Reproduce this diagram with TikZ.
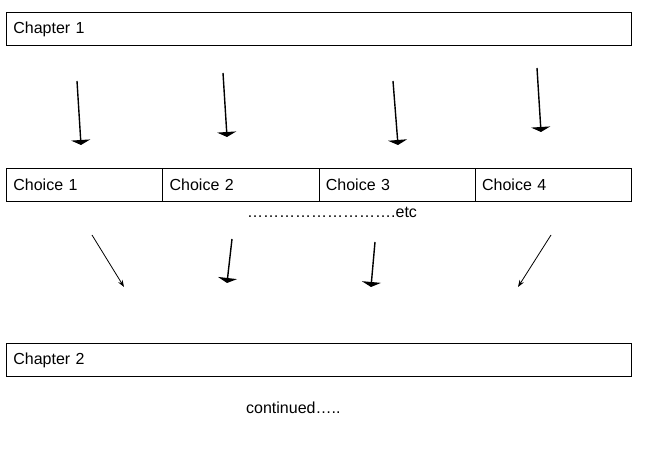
\documentclass[tikz,border=0pt]{standalone}
\usepackage{fontspec}
\setmainfont{Liberation Sans}
\usetikzlibrary{arrows.meta,positioning}
\newcommand{\BoxFont}{\fontsize{16}{19}\selectfont}
\tikzset{
  bar/.style={draw, line width=0.8pt, anchor=north west, align=left,
    minimum height=33pt, inner xsep=7pt, inner ysep=0pt, font=\BoxFont},
  fatarrow/.style={line width=1.4pt, -{Triangle[width=19pt,length=5pt]}},
  thinarrow/.style={line width=0.8pt, -{Stealth[width=5pt,length=7pt]}},
  plain/.style={font=\BoxFont, inner sep=0pt}
}
\begin{document}
\begin{tikzpicture}[x=1pt,y=-1pt]
    \useasboundingbox (0,0) rectangle (646,457);
    \node[bar, text width=611pt] (chapA) at (6,12) {Chapter 1};
    \foreach \i in {1,...,4}
      \node[bar, text width=142.25pt] (choice\i) at ({6+156.25*(\i-1)},168) {Choice \i};
    \node[bar, text width=611pt] (chapB) at (6,343) {Chapter 2};
    \node[plain, anchor=west] (etc) at (247,212) {……………………….etc};
    \node[plain, anchor=west] (cont) at (246,408) {continued…..};
    % arrows from chapter 1 down to the choices
    \foreach \n/\xa/\ya/\xb/\yb in {1/77/81/81/145, 2/223/73/227/137,
                                    3/393/81/398/145, 4/537/68/541/132} {
      \coordinate (topS\n) at (\xa,\ya);
      \coordinate (topE\n) at (\xb,\yb);
      \draw[fatarrow] (topS\n) -- (topE\n);
    }
    % arrows from the choices down to chapter 2
    \foreach \n/\xa/\ya/\xb/\yb/\sty in {1/92/235/124/287/thinarrow, 2/232/239/227/283/fatarrow,
                                         3/375/242/371/287/fatarrow, 4/551/235/518/287/thinarrow} {
      \coordinate (lowS\n) at (\xa,\ya);
      \coordinate (lowE\n) at (\xb,\yb);
      \draw[\sty] (lowS\n) -- (lowE\n);
    }
  \end{tikzpicture}
\end{document}
